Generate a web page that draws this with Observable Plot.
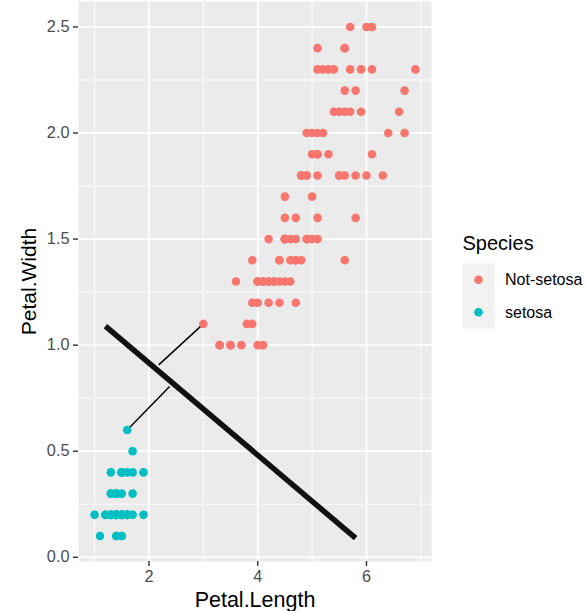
<!DOCTYPE html>
<html>
<head>
<meta charset="utf-8">
<script src="https://cdn.jsdelivr.net/npm/d3@7"></script>
<script src="https://cdn.jsdelivr.net/npm/@observablehq/plot@0.6"></script>
<style>
  html, body { margin: 0; padding: 0; background: #fff; }
  #wrap { position: relative; width: 587px; height: 611px; font-family: "Liberation Sans", Arial, Helvetica, sans-serif; }
  #wrap svg { position: absolute; left: 0; top: 0; }
</style>
</head>
<body>
<div id="wrap"></div>
<script>
// iris petal measurements
const setosaLength = [1.4,1.4,1.3,1.5,1.4,1.7,1.4,1.5,1.4,1.5,1.5,1.6,1.4,1.1,1.2,1.5,1.3,1.4,1.7,1.5,1.7,1.5,1.0,1.7,1.9,1.6,1.6,1.5,1.4,1.6,1.6,1.5,1.5,1.4,1.5,1.2,1.3,1.4,1.3,1.5,1.3,1.3,1.3,1.6,1.9,1.4,1.6,1.4,1.5,1.4];
const setosaWidth  = [0.2,0.2,0.2,0.2,0.2,0.4,0.3,0.2,0.2,0.1,0.2,0.2,0.1,0.1,0.2,0.4,0.4,0.3,0.3,0.3,0.2,0.4,0.2,0.5,0.2,0.2,0.4,0.2,0.2,0.2,0.2,0.4,0.1,0.2,0.2,0.2,0.2,0.1,0.2,0.2,0.3,0.3,0.2,0.6,0.4,0.3,0.2,0.2,0.2,0.2];
const otherLength  = [4.7,4.5,4.9,4.0,4.6,4.5,4.7,3.3,4.6,3.9,3.5,4.2,4.0,4.7,3.6,4.4,4.5,4.1,4.5,3.9,4.8,4.0,4.9,4.7,4.3,4.4,4.8,5.0,4.5,3.5,3.8,3.7,3.9,5.1,4.5,4.5,4.7,4.4,4.1,4.0,4.4,4.6,4.0,3.3,4.2,4.2,4.2,4.3,3.0,4.1,
                      6.0,5.1,5.9,5.6,5.8,6.6,4.5,6.3,5.8,6.1,5.1,5.3,5.5,5.0,5.1,5.3,5.5,6.7,6.9,5.0,5.7,4.9,6.7,4.9,5.7,6.0,4.8,4.9,5.6,5.8,6.1,6.4,5.6,5.1,5.6,6.1,5.6,5.5,4.8,5.4,5.6,5.1,5.1,5.9,5.7,5.2,5.0,5.2,5.4,5.1];
const otherWidth   = [1.4,1.5,1.5,1.3,1.5,1.3,1.6,1.0,1.3,1.4,1.0,1.5,1.0,1.4,1.3,1.4,1.5,1.0,1.5,1.1,1.8,1.3,1.5,1.2,1.3,1.4,1.4,1.7,1.5,1.0,1.1,1.0,1.2,1.6,1.5,1.6,1.5,1.3,1.3,1.3,1.2,1.4,1.2,1.0,1.3,1.2,1.3,1.3,1.1,1.3,
                      2.5,1.9,2.1,1.8,2.2,2.1,1.7,1.8,1.8,2.5,2.0,1.9,2.1,2.0,2.4,2.3,1.8,2.2,2.3,1.5,2.3,2.0,2.0,1.8,2.1,1.8,1.8,1.8,2.1,1.6,1.9,2.0,2.2,1.5,1.4,2.3,2.4,1.8,1.8,2.1,2.4,2.3,1.9,2.3,2.5,2.3,1.9,2.0,2.3,1.8];
const speciesNames = ["Not-setosa", "setosa"];
const speciesColors = ["#F8766D", "#00BFC4"];

// separating line and the two short segments from the closest points
const hyperX = [1.2, 5.8];
const hyperY = [1.09, 0.09];
const segX1 = [1.6, 3.0];
const segY1 = [0.6, 1.1];
const segX2 = [2.38, 2.18];
const segY2 = [0.805, 0.907];

const xTicks = [2, 4, 6];
const xMinor = [1, 3, 5, 7];
const yTicks = [0, 0.5, 1, 1.5, 2, 2.5];
const yMinor = [0.25, 0.75, 1.25, 1.75, 2.25];

const points = [
  ...setosaLength.map((v, i) => ({x: v, y: setosaWidth[i], s: "setosa"})),
  ...otherLength.map((v, i) => ({x: v, y: otherWidth[i], s: "Not-setosa"}))
];
const hyper = [{x1: hyperX[0], y1: hyperY[0], x2: hyperX[1], y2: hyperY[1]}];
const segs = segX1.map((v, i) => ({x1: v, y1: segY1[i], x2: segX2[i], y2: segY2[i]}));

const font = "'Liberation Sans', Arial, Helvetica, sans-serif";

const chart = Plot.plot({
  width: 587,
  height: 611,
  marginLeft: 78,
  marginRight: 156,
  marginTop: 1,
  marginBottom: 50,
  style: {fontFamily: font, background: "white", overflow: "visible"},
  x: {domain: [0.705, 7.195]},
  y: {domain: [-0.02, 2.62]},
  color: {domain: speciesNames, range: speciesColors},
  marks: [
    Plot.frame({fill: "#EBEBEB", stroke: null}),
    Plot.ruleX(xMinor, {stroke: "white", strokeWidth: 0.9}),
    Plot.ruleY(yMinor, {stroke: "white", strokeWidth: 0.9}),
    Plot.ruleX(xTicks, {stroke: "white", strokeWidth: 1.8}),
    Plot.ruleY(yTicks, {stroke: "white", strokeWidth: 1.8}),
    Plot.axisX({ticks: xTicks, tickSize: 5, tickPadding: 4, fontSize: 16.3, stroke: "#333333", strokeWidth: 1.4, fill: "#4D4D4D", label: null, tickFormat: d => String(d)}),
    Plot.axisY({ticks: yTicks, tickSize: 5, tickPadding: 4, fontSize: 16.3, stroke: "#333333", strokeWidth: 1.4, fill: "#4D4D4D", label: null, tickFormat: d3.format(".1f")}),
    Plot.text(["Petal.Length"], {frameAnchor: "bottom", textAnchor: "middle", lineAnchor: "middle", dy: 39, fontSize: 21.5, fill: "black"}),
    Plot.text(["Petal.Width"], {frameAnchor: "left", textAnchor: "middle", lineAnchor: "middle", dx: -49, rotate: -90, fontSize: 21, fill: "black"}),
    Plot.link(segs, {x1: "x1", y1: "y1", x2: "x2", y2: "y2", stroke: "black", strokeWidth: 1.5}),
    Plot.dot(points, {x: "x", y: "y", fill: "s", r: 4.3, stroke: null}),
    Plot.link(hyper, {x1: "x1", y1: "y1", x2: "x2", y2: "y2", stroke: "#111", strokeWidth: 5.5, strokeLinecap: "butt"})
  ]
});
document.getElementById("wrap").appendChild(chart);

// legend
const svg = d3.select(chart);
const lg = svg.append("g").attr("font-family", font).attr("text-anchor", "start");
lg.append("text").attr("x", 462.5).attr("y", 250).attr("font-size", 20).attr("fill", "black").text("Species");
speciesNames.forEach((name, i) => {
  const y0 = 263.5 + i * 32.5;
  lg.append("rect").attr("x", 462.5).attr("y", y0).attr("width", 32).attr("height", 32.5).attr("fill", "#F2F2F2");
  lg.append("circle").attr("cx", 478.5).attr("cy", y0 + 16.25).attr("r", 4.3).attr("fill", speciesColors[i]);
  lg.append("text").attr("x", 505).attr("y", y0 + 16.25).attr("dy", "0.35em").attr("font-size", 16).attr("fill", "black").text(name);
});
</script>
</body>
</html>
